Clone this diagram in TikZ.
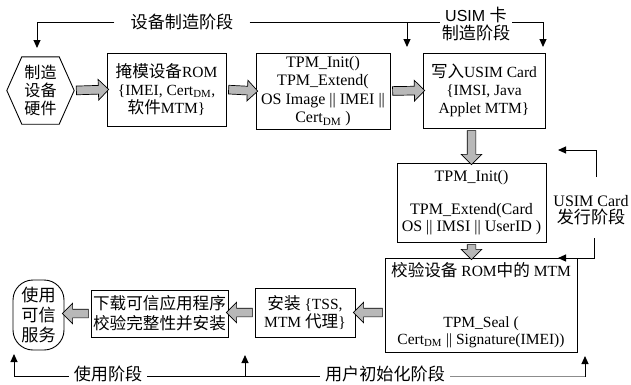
\documentclass[tikz,border=0pt]{standalone}
\usepackage{fontspec}
\setmainfont{Liberation Serif}
\setsansfont{Liberation Sans}
\newfontfamily\cjk[Scale=1.07]{Noto Sans CJK SC}
\usetikzlibrary{shapes.arrows,calc,arrows.meta}
\newcommand\zh[1]{{\cjk #1}}
\tikzset{
  box/.style={draw, line width=0.9pt, align=center, inner sep=1pt, font=\fontsize{15.5}{18}\selectfont},
  fatarrow/.style={single arrow, draw, line width=0.7pt, fill=black!28, inner sep=4pt, minimum width=20pt, single arrow head extend=6pt},
  arrline/.style={line width=1pt, -{Triangle[length=8pt,width=7pt]}},
  bline/.style={line width=1pt},
  lbl/.style={inner ysep=0pt, inner xsep=6pt, align=center, font=\fontsize{15.5}{18}\selectfont}
}
\newcommand\fatarr[2]{\path let \p1=(#1), \p2=(#2), \n1={atan2(\y2-\y1,\x2-\x1)}, \n2={veclen(\x2-\x1,\y2-\y1)} in node[fatarrow, minimum height=\n2, rotate=\n1] at ($(\p1)!0.5!(\p2)$) {};}
\begin{document}
\begin{tikzpicture}[x=1pt,y=-1pt]
\useasboundingbox (0,0) rectangle (631,384);
% nodes
\node[align=center, minimum width=67pt, minimum height=67pt, inner sep=0pt, font=\fontsize{15}{18}\selectfont] (hex) at (40.5,90.5) {\zh{制造}\\\zh{设备}\\\zh{硬件}};
\draw[line width=0.9pt] (hex.west) -- ($(hex.north west)+(15,0)$) -- ($(hex.north east)+(-15,0)$) -- (hex.east) -- ($(hex.south east)+(-15,0)$) -- ($(hex.south west)+(15,0)$) -- cycle;
\node[box, minimum width=119pt, minimum height=73pt] (rom) at (166.5,89.5) {\zh{掩模设备}ROM\\\{IMEI, Cert\textsubscript{DM},\\\zh{软件}MTM\}};
\node[box, minimum width=134pt, minimum height=76pt, font=\fontsize{16}{18.5}\selectfont] (tpm1) at (323,91) {TPM\_Init()\\TPM\_Extend(\\OS Image || IMEI ||\\Cert\textsubscript{DM} )};
\node[box, minimum width=122pt, minimum height=75pt] (usim) at (484,90.5) {\zh{写入}USIM Card\\\{IMSI, Java\\Applet MTM\}};
\node[box, minimum width=149pt, minimum height=79pt, font=\fontsize{16}{16.5}\selectfont] (iss) at (471.5,202.5) {TPM\_Init()\\[16.5pt]TPM\_Extend(Card\\OS || IMSI || UserID )};
\node[box, minimum width=192pt, minimum height=94pt, font=\fontsize{15.5}{17}\selectfont] (ver) at (481,305) {\zh{校验设备} ROM\zh{中的} MTM\\[34pt]TPM\_Seal (\\Cert\textsubscript{DM} || Signature(IMEI))};
\node[box, minimum width=100pt, minimum height=49pt] (inst) at (305,312.5) {\zh{安装} \{TSS,\\MTM \zh{代理}\}};
\node[box, minimum width=137pt, minimum height=47pt, font=\fontsize{15.5}{20}\selectfont] (dl) at (159.5,313.5) {\zh{下载可信应用程序}\\\zh{校验完整性并安装}};
\node[draw, line width=0.9pt, rounded corners=20pt, minimum width=51pt, minimum height=70pt, align=center, inner sep=0pt, font=\fontsize{16}{20}\selectfont] (use) at (38.5,315) {\zh{使用}\\\zh{可信}\\\zh{服务}};
% fat arrows
\fatarr{hex.east}{rom.west}
\fatarr{rom.east}{tpm1.west}
\fatarr{tpm1.east}{usim.west}
\fatarr{iss.north |- usim.south}{iss.north}
\fatarr{iss.south}{iss.south |- ver.north}
\fatarr{ver.west |- inst.east}{inst.east}
\fatarr{inst.west}{dl.east |- inst.west}
\fatarr{dl.west}{use.east |- dl.west}
% top phase labels
\node[lbl, inner xsep=16pt, font=\fontsize{16}{18}\selectfont] (l1) at (182,22) {\zh{设备制造阶段}};
\node[lbl, inner xsep=2pt, font=\fontsize{16}{18}\selectfont] (u1) at (476,24) {\sffamily USIM \zh{卡}\\\zh{制造阶段}};
\coordinate (t1c) at (37,22);
\coordinate (t1e) at (37,48);
\coordinate (t2s) at (407,22);
\coordinate (t2e) at (407,47);
\coordinate (t3c) at (543,22);
\coordinate (t3e) at (543,47);
\draw[arrline] (l1.west) -- (t1c) -- (t1e);
\draw[bline] (l1.east) -- (u1.west |- l1.east);
\draw[arrline] (t2s) -- (t2e);
\draw[arrline] (u1.east |- l1.east) -- (t3c) -- (t3e);
% right phase label
\node[lbl, font=\fontsize{16}{17}\selectfont] (r1) at (591,210) {USIM Card\\\zh{发行阶段}};
\coordinate (r1a) at (596,177);
\coordinate (r1b) at (596,150);
\coordinate (r1c) at (558,150);
\coordinate (r2a) at (594,238);
\coordinate (r2b) at (594,258);
\coordinate (r2c) at (558,258);
\draw[arrline] (r1a) -- (r1b) -- (r1c);
\draw[arrline] (r2a) -- (r2b) -- (r2c);
% bottom phase labels
\node[lbl, inner xsep=5pt, font=\fontsize{16}{18}\selectfont] (b1) at (108,374) {\zh{使用阶段}};
\node[lbl, inner xsep=5pt, font=\fontsize{16}{18}\selectfont] (b2) at (385,374) {\zh{用户初始化阶段}};
\coordinate (bl1) at (14,376);
\coordinate (bl2) at (14,354);
\coordinate (bm1) at (245,376);
\coordinate (bm2) at (245,355);
\coordinate (br1) at (585,376);
\coordinate (br2) at (585,356);
\draw[arrline] (b1.west |- bl1) -- (bl1) -- (bl2);
\draw[bline] (b1.east |- bl1) -- (b2.west |- bl1);
\draw[arrline] (bm1) -- (bm2);
\draw[bline, black!45] (b2.east |- br1) -- (br1);
\draw[arrline] ($(br1)+(0,0.5)$) -- (br2);
\end{tikzpicture}
\end{document}
